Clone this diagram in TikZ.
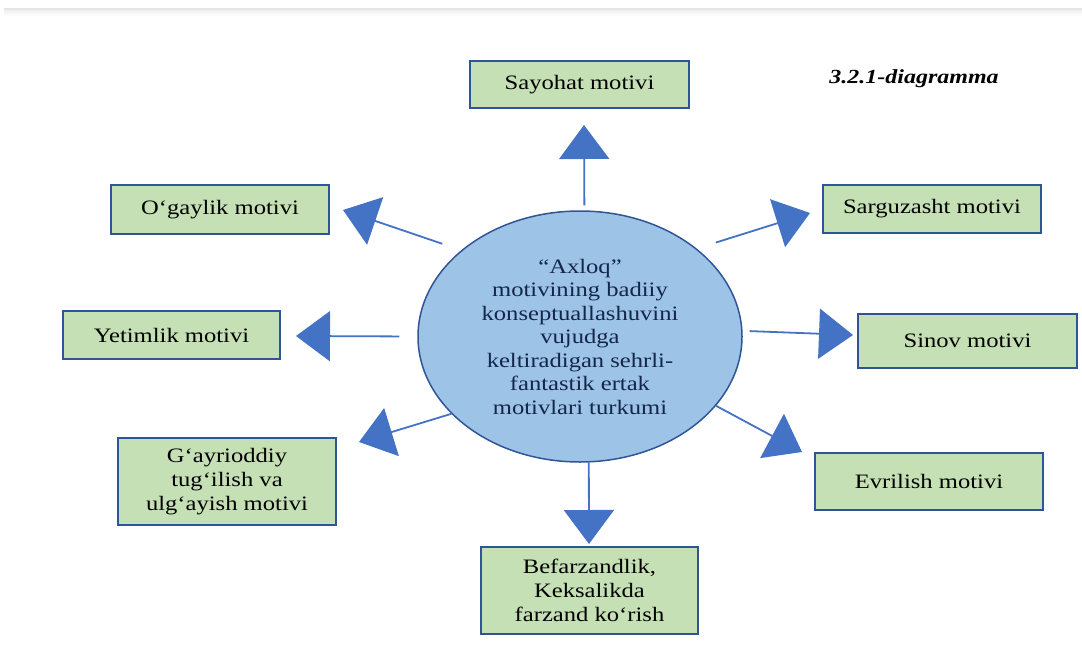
\documentclass[tikz,border=0pt]{standalone}
\usepackage{fontspec}
\setmainfont{Liberation Serif}[FakeStretch=1.2]
\usetikzlibrary{arrows.meta,shapes.geometric}
\definecolor{boxgreen}{HTML}{C5E0B4}
\definecolor{boxblue}{HTML}{2F5597}
\definecolor{ovalblue}{HTML}{9DC3E6}
\definecolor{arrowblue}{HTML}{4472C4}
\definecolor{textnavy}{HTML}{14264A}
\begin{document}
\begin{tikzpicture}[x=1pt,y=-1pt,
	motiv/.style={draw=boxblue,line width=1.8pt,fill=boxgreen,align=center,inner sep=2pt,font=\fontsize{20.5}{24}\selectfont},
	arr/.style={draw=arrowblue,line width=1.8pt,-{Triangle[length=34pt,width=50pt]}}]
	\useasboundingbox (0,0) rectangle (1082,648);
	% top band
	\fill[gray!20] (4,8) rectangle (1082,10);
	\shade[top color=gray!12,bottom color=white] (4,10) rectangle (1082,16);
	% centre
	\node[ellipse,draw=boxblue,line width=1.5pt,fill=ovalblue,minimum width=324pt,minimum height=251pt,inner sep=0pt,
		align=center,text=textnavy,font=\fontsize{20.5}{23.5}\selectfont] (axloq) at (580,336.5)
		{“Axloq”\\motivining badiiy\\konseptuallashuvini\\vujudga\\keltiradigan sehrli-\\fantastik ertak\\motivlari turkumi};
	% motivs
	\node[motiv,minimum width=219pt,minimum height=47pt] (sayohat) at (579.5,84.5) {Sayohat motivi};
	\node[motiv,minimum width=218pt,minimum height=49pt] (ogaylik) at (220,209.5) {O‘gaylik motivi};
	\node[motiv,minimum width=218pt,minimum height=48pt] (sarguzasht) at (932,209) {Sarguzasht motivi};
	\node[motiv,minimum width=217pt,minimum height=48pt] (yetimlik) at (171.5,335) {Yetimlik motivi};
	\node[motiv,minimum width=219pt,minimum height=54pt] (sinov) at (967.5,341) {Sinov motivi};
	\node[motiv,minimum width=218pt,minimum height=87pt] (gayri) at (227,481.5) {G‘ayrioddiy\\tug‘ilish va\\ulg‘ayish motivi};
	\node[motiv,minimum width=228pt,minimum height=57pt] (evrilish) at (929,481.5) {Evrilish motivi};
	\node[motiv,minimum width=217pt,minimum height=87pt] (befarz) at (589.5,590.5) {Befarzandlik,\\Keksalikda\\farzand ko‘rish};
	\node (title) at (914,79) {\fontsize{20}{24}\selectfont\bfseries\itshape 3.2.1-diagramma};
	% arrow tips
	\coordinate (sayohat-tip) at (584,125);
	\coordinate (ogaylik-tip) at (343,210);
	\coordinate (sarguzasht-tip) at (810,213);
	\coordinate (yetimlik-tip) at (296,336);
	\coordinate (sinov-tip) at (853,335);
	\coordinate (gayri-tip) at (359,442);
	\coordinate (evrilish-tip) at (802,452);
	\coordinate (befarz-tip) at (589,544);
	% arrows
	\draw[arr,shorten <=5pt] (axloq.88) -- (sayohat-tip);
	\draw[arr,shorten <=20pt] (axloq.144) -- (ogaylik-tip);
	\draw[arr,shorten <=20pt] (axloq.37) -- (sarguzasht-tip);
	\draw[arr,shorten <=18pt] (axloq.180) -- (yetimlik-tip);
	\draw[arr,shorten <=7pt] (axloq.2) -- (sinov-tip);
	\draw[arr] (axloq.211.5) -- (gayri-tip);
	\draw[arr] (axloq.333) -- (evrilish-tip);
	\draw[arr] (axloq.274) -- (befarz-tip);
\end{tikzpicture}
\end{document}
